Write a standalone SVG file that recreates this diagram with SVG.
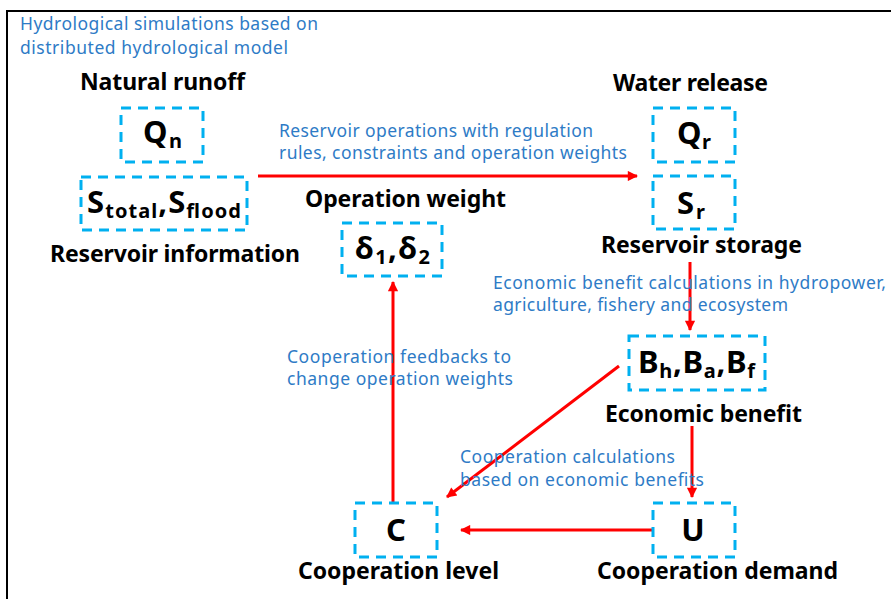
<svg xmlns="http://www.w3.org/2000/svg" width="891" height="599" viewBox="0 0 891 599">
  <style>
    .frame { fill: none; stroke: #000; stroke-width: 2; }
    .box { fill: none; stroke: #00b0f0; stroke-width: 3; stroke-dasharray: 10 7; }
    .lbl { font-family: "Noto Sans", "Open Sans", sans-serif; font-weight: bold; font-size: 23px; fill: #000; text-anchor: middle; }
    .sym { font-family: "Noto Sans", "Open Sans", sans-serif; font-weight: bold; font-size: 31px; fill: #000; text-anchor: middle; }
    .sub { font-size: 20px; }
    .note { font-family: "Noto Sans", "Open Sans", sans-serif; font-size: 17.5px; fill: #2e7bc6; }
    .link { fill: none; stroke: #ff0000; stroke-width: 3; marker-end: url(#head); }
  </style>
  <defs>
    <marker id="head" viewBox="0 0 10 10" refX="9" refY="5" markerWidth="4" markerHeight="3.4" orient="auto" markerUnits="strokeWidth">
      <path d="M0,0 L10,5 L0,10 z" fill="#ff0000"/>
    </marker>
  </defs>

  <rect width="891" height="599" fill="#fff"/>
  <!-- outer frame, open at right and bottom -->
  <path class="frame" d="M7,599 V11 H891"/>

  <text class="note" x="20" y="30" textLength="298" lengthAdjust="spacing">Hydrological simulations based on</text>
  <text class="note" x="20" y="54" textLength="268" lengthAdjust="spacing">distributed hydrological model</text>

  <g id="connectors">
    <line class="link" x1="258" y1="176" x2="637" y2="176"/>
    <line class="link" x1="690" y1="262" x2="690" y2="330"/>
    <line class="link" x1="692" y1="426" x2="692" y2="497"/>
    <line class="link" x1="652" y1="530" x2="461" y2="530"/>
    <line class="link" x1="619" y1="366" x2="447" y2="497"/>
    <line class="link" x1="393" y1="502" x2="393" y2="282"/>
    <text class="note" x="279" y="137" textLength="314" lengthAdjust="spacing">Reservoir operations with regulation</text>
    <text class="note" x="279" y="159" textLength="348" lengthAdjust="spacing">rules, constraints and operation weights</text>
    <text class="note" x="493" y="289" textLength="393" lengthAdjust="spacing">Economic benefit calculations in hydropower,</text>
    <text class="note" x="493" y="311" textLength="295" lengthAdjust="spacing">agriculture, fishery and ecosystem</text>
    <text class="note" x="287" y="363" textLength="224" lengthAdjust="spacing">Cooperation feedbacks to</text>
    <text class="note" x="287" y="385" textLength="226" lengthAdjust="spacing">change operation weights</text>
    <text class="note" x="460" y="463" textLength="215" lengthAdjust="spacing">Cooperation calculations</text>
    <text class="note" x="460" y="485.5" textLength="244" lengthAdjust="spacing">based on economic benefits</text>
  </g>

  <g id="natural-runoff">
    <text class="lbl" x="162.5" y="90" textLength="165" lengthAdjust="spacing">Natural runoff</text>
    <rect class="box" x="121" y="108" width="82" height="54"/>
    <text class="sym" x="162.5" y="143" textLength="39" lengthAdjust="spacing">Q<tspan class="sub" dy="5">n</tspan></text>
  </g>

  <g id="reservoir-information">
    <rect class="box" x="81" y="177" width="166" height="53"/>
    <text class="sym" x="164" y="213" textLength="154" lengthAdjust="spacing">S<tspan class="sub" dy="5">total</tspan><tspan dy="-5">,S</tspan><tspan class="sub" dy="5">flood</tspan></text>
    <text class="lbl" x="175" y="262" textLength="250" lengthAdjust="spacing">Reservoir information</text>
  </g>

  <g id="water-release">
    <text class="lbl" x="690.5" y="91" textLength="155" lengthAdjust="spacing">Water release</text>
    <rect class="box" x="653" y="108" width="82" height="54"/>
    <text class="sym" x="694" y="144" textLength="34" lengthAdjust="spacing">Q<tspan class="sub" dy="5">r</tspan></text>
  </g>

  <g id="reservoir-storage">
    <rect class="box" x="653" y="176" width="82" height="53"/>
    <text class="sym" x="691" y="214" textLength="28" lengthAdjust="spacing">S<tspan class="sub" dy="5">r</tspan></text>
    <text class="lbl" x="701.5" y="253" textLength="201" lengthAdjust="spacing">Reservoir storage</text>
  </g>

  <g id="operation-weight">
    <text class="lbl" x="405.5" y="207" textLength="201" lengthAdjust="spacing">Operation weight</text>
    <rect class="box" x="342" y="223" width="100" height="53"/>
    <text class="sym" x="392.5" y="259" textLength="75" lengthAdjust="spacing">δ<tspan class="sub" dy="5">1</tspan><tspan dy="-5">,δ</tspan><tspan class="sub" dy="5">2</tspan></text>
  </g>

  <g id="economic-benefit">
    <rect class="box" x="629" y="336" width="136" height="54"/>
    <text class="sym" x="696.5" y="373" textLength="117" lengthAdjust="spacing">B<tspan class="sub" dy="5">h</tspan><tspan dy="-5">,B</tspan><tspan class="sub" dy="5">a</tspan><tspan dy="-5">,B</tspan><tspan class="sub" dy="5">f</tspan></text>
    <text class="lbl" x="703.5" y="422" textLength="197" lengthAdjust="spacing">Economic benefit</text>
  </g>

  <g id="cooperation-demand">
    <rect class="box" x="653" y="503" width="82" height="54"/>
    <text class="sym" x="693" y="541" font-size="32">U</text>
    <text class="lbl" x="717.5" y="579" textLength="241" lengthAdjust="spacing">Cooperation demand</text>
  </g>

  <g id="cooperation-level">
    <rect class="box" x="355" y="503" width="82" height="54"/>
    <text class="sym" x="396" y="541" font-size="32">C</text>
    <text class="lbl" x="398.5" y="579" textLength="201" lengthAdjust="spacing">Cooperation level</text>
  </g>
</svg>
